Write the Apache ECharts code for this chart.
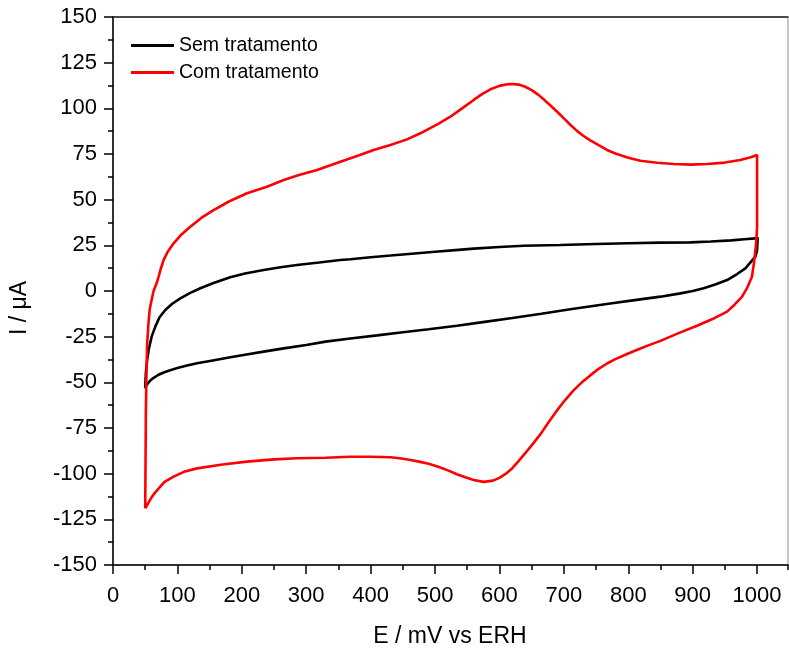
<!DOCTYPE html>
<html>
<head>
<meta charset="utf-8">
<script src="https://cdn.jsdelivr.net/npm/echarts@6/dist/echarts.min.js"></script>
<style>
html,body{margin:0;padding:0;background:#fff;}
#chart{width:789px;height:651px;}
</style>
</head>
<body>
<div id="chart"></div>
<script>
// ---- Data (E in mV vs ERH, I in µA) ----
const seriesNames = ['Sem tratamento', 'Com tratamento'];

// Sem tratamento: forward (anodic) scan 50 -> 1000, then reverse scan 1000 -> 50
const semE = [50, 51, 53, 55.3, 60, 65.7, 72, 81.2, 92, 104.5, 120, 135.6, 155, 182, 205, 233.9, 260, 285.7, 320, 353, 368.5, 400, 431, 450, 500, 531.5, 560, 600, 637.6, 694.6, 750, 800, 850, 896.6, 928, 960, 980, 997.4, 1001,
              1000, 997.4, 992, 981.8, 969, 953.4, 935, 917, 900, 881, 850, 810, 772, 710, 665, 620, 577, 534, 490, 450, 410, 368.5, 330, 300, 265, 233.9, 205, 180, 155, 130.4, 115, 100, 90, 78.6, 70, 62, 57.9, 55, 52, 50.2];
const semI = [-53.3, -45, -38, -32.3, -25, -19.5, -14.5, -10.4, -7, -4, -1, 1.5, 4.2, 7.5, 9.6, 11.5, 13, 14.2, 15.6, 17, 17.4, 18.5, 19.4, 20, 21.5, 22.4, 23.2, 24.1, 24.8, 25.2, 25.7, 26.1, 26.5, 26.6, 27.1, 27.7, 28.3, 28.8, 29.2,
              22.4, 18.8, 16.6, 12.4, 9.3, 6, 3.6, 1.5, 0, -1.3, -3.1, -5, -6.8, -10, -12.5, -14.8, -16.9, -19.0, -20.9, -22.6, -24.3, -26, -27.7, -29.6, -31.4, -33.2, -34.9, -36.4, -38, -39.6, -40.8, -42.2, -43.2, -44.6, -46, -47.8, -49, -50, -51.5, -53.3];

// Com tratamento: forward (anodic) scan 50 -> 1000, then reverse scan 1000 -> 50
const comE = [50, 50.5, 51, 52, 52.8, 55, 57, 60.5, 63, 68, 70.8, 74, 78.6, 85, 94.1, 105, 120, 137, 156.2, 180, 208, 239, 265, 290, 316.8, 353, 380, 404.7, 430.6, 456.5, 482.3, 505, 523.8, 542, 560, 573, 586, 600, 612, 620, 630, 640, 650, 660, 670, 680, 690, 700, 710, 720, 730, 741, 754, 767, 780, 800, 818.8, 845, 870.5, 897, 922.4, 950, 974, 990, 1000,
              1000, 1000, 999, 997.4, 995, 992, 985, 976.7, 965, 953.4, 930, 906.8, 880, 850, 830, 818.8, 800, 780, 767, 754, 741, 728, 715, 702, 689, 676, 663.5, 650, 640, 630, 620, 610, 600, 590, 575.5, 560, 547, 534, 520, 505, 490, 475, 460, 445, 430.6, 400, 368.5, 330, 285.7, 250, 208, 170, 130.4, 110, 94.1, 80, 73.4, 65, 60.5, 55, 50.2];
const comI = [-119, -95, -67, -45, -30.5, -18, -10, -4, 0, 4.5, 7.8, 12, 17, 21.5, 26.1, 30.5, 35.2, 40, 44.3, 49, 53.5, 57.1, 60.8, 63.6, 66.2, 70.8, 74, 77.2, 79.9, 83, 87.2, 91.5, 95.4, 100, 104.6, 107.8, 110.4, 112.3, 113.2, 113.3, 113, 111.8, 110, 107.5, 104.5, 101.3, 98, 94.5, 91, 87.8, 85, 82.5, 79.8, 77.2, 75.3, 73, 71.3, 70.2, 69.5, 69.2, 69.5, 70.3, 71.7, 73.2, 74.5,
              55, 35.2, 28, 22.4, 15, 7.8, 2, -3.1, -7.5, -11.3, -15.5, -19, -22.8, -27.3, -29.9, -31.5, -34.2, -37.3, -39.7, -42.6, -46.2, -50, -54.4, -59.7, -65.5, -72, -78.5, -84.5, -88.8, -93, -97, -100, -102.3, -103.8, -104.5, -103.5, -102, -100.3, -98.2, -96.2, -94.6, -93.4, -92.4, -91.6, -91, -90.7, -90.7, -91.3, -91.6, -92.2, -93.4, -95, -97.1, -99, -101.6, -104.5, -107.1, -110.5, -112.6, -116, -119];

const xTicks = {min: 0, max: 1048, major: 100, minor: 50};
const yTicks = {min: -150, max: 150, major: 25};

function pairs(xs, ys) { return xs.map((x, i) => [x, ys[i]]); }

const FONT = '"Liberation Sans", Arial, sans-serif';
const chart = echarts.init(document.getElementById('chart'), null, {renderer: 'canvas'});

const baseX = {
  type: 'value', min: xTicks.min, max: xTicks.max, position: 'bottom',
  splitLine: {show: false}, gridIndex: 0
};

chart.setOption({
  animation: false,
  backgroundColor: '#ffffff',
  grid: {left: 113, right: 1, top: 17, bottom: 86, show: true, borderColor: '#8c8c8c', borderWidth: 1, backgroundColor: 'transparent'},
  legend: {
    orient: 'vertical', left: 131, top: 35.5, padding: 0,
    icon: 'rect', itemWidth: 43, itemHeight: 2.8, itemGap: 7,
    data: seriesNames,
    textStyle: {fontFamily: FONT, fontSize: 19.5, color: '#000', lineHeight: 20}
  },
  xAxis: [
    Object.assign({}, baseX, {
      interval: xTicks.major,
      axisLine: {show: true, onZero: false, lineStyle: {color: '#000', width: 1.5}},
      axisTick: {show: true, inside: false, length: 9, lineStyle: {color: '#000', width: 1.5}},
      axisLabel: {show: true, showMaxLabel: false, margin: 20, fontFamily: FONT, fontSize: 22, color: '#000',
                  formatter: v => String(v)}
    }),
    Object.assign({}, baseX, {
      interval: xTicks.minor,
      axisLine: {show: false, onZero: false},
      axisTick: {show: true, inside: false, length: 5, lineStyle: {color: '#000', width: 1.5}},
      axisLabel: {show: false}
    }),
    Object.assign({}, baseX, {
      position: 'top', interval: xTicks.major,
      axisLine: {show: true, onZero: false, lineStyle: {color: '#222', width: 1.5}},
      axisTick: {show: false}, axisLabel: {show: false}
    })
  ],
  yAxis: {
    type: 'value', min: yTicks.min, max: yTicks.max, interval: yTicks.major,
    axisLine: {show: true, onZero: false, lineStyle: {color: '#000', width: 1.5}},
    axisTick: {show: true, inside: false, length: 9, lineStyle: {color: '#000', width: 1.5}},
    minorTick: {show: true, splitNumber: 2, length: 5, lineStyle: {color: '#000', width: 1.5}},
    axisLabel: {margin: 16, fontFamily: FONT, fontSize: 22, color: '#000', formatter: v => String(v)},
    splitLine: {show: false}
  },
  graphic: [
    {type: 'text', x: 450, y: 637, style: {text: 'E / mV vs ERH', font: '23px ' + FONT, fill: '#000', textAlign: 'center', textVerticalAlign: 'middle'}},
    {type: 'text', x: 20, y: 308, rotation: Math.PI / 2, style: {text: 'I / μA', font: '23px ' + FONT, fill: '#000', textAlign: 'center', textVerticalAlign: 'middle'}}
  ],
  series: [
    {name: seriesNames[0], type: 'line', xAxisIndex: 0, yAxisIndex: 0, data: pairs(semE, semI),
     symbol: 'none', showSymbol: false, smooth: false, color: '#000000', lineStyle: {color: '#000000', width: 2.6}},
    {name: seriesNames[1], type: 'line', xAxisIndex: 0, yAxisIndex: 0, data: pairs(comE, comI),
     symbol: 'none', showSymbol: false, smooth: false, color: '#ff0000', lineStyle: {color: '#ff0000', width: 2.6}}
  ]
});
</script>
</body>
</html>
